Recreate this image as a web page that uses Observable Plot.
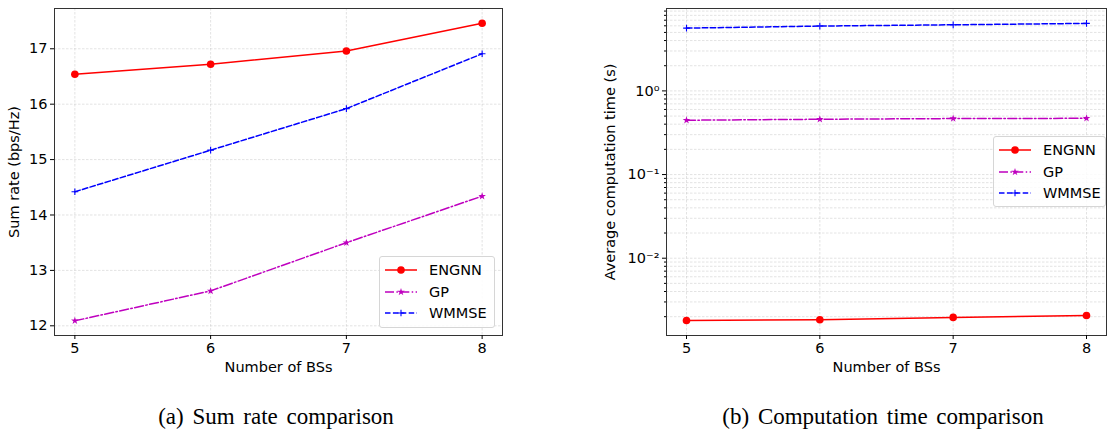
<!DOCTYPE html>
<html>
<head>
<meta charset="utf-8">
<script src="https://cdn.jsdelivr.net/npm/d3@7"></script>
<script src="https://cdn.jsdelivr.net/npm/@observablehq/plot@0.6"></script>
<style>
  html, body { margin: 0; padding: 0; background: #fff; }
  #root { position: relative; width: 1107px; height: 432px; overflow: hidden; font-family: "DejaVu Sans", sans-serif; }
  .panel { position: absolute; top: 0; }
  .caption { position: absolute; font-family: "Liberation Serif", "Times New Roman", serif; font-size: 23px; word-spacing: 3px; color: #000; white-space: nowrap; transform: translateX(-50%); }
  .legend { position: absolute; border: 1px solid #d6d6d6; border-radius: 3px; background: rgba(255,255,255,0.85); box-sizing: border-box; }
</style>
</head>
<body>
<div id="root"></div>
<script>
// ---------- data ----------
const bsCounts = [5, 6, 7, 8];
const methods = ["ENGNN", "GP", "WMMSE"];
const rateENGNN = [16.54, 16.72, 16.96, 17.46];
const rateGP = [12.09, 12.63, 13.50, 14.34];
const rateWMMSE = [14.42, 15.17, 15.92, 16.91];
const timeENGNN = [0.00180, 0.00184, 0.00196, 0.00207];
const timeGP = [0.446, 0.458, 0.467, 0.470];
const timeWMMSE = [5.63, 5.96, 6.17, 6.41];
const rateTicks = [12, 13, 14, 15, 16, 17];
const timeTicks = [0.01, 0.1, 1];
const timeTickLabels = ["10\u207B\u00B2", "10\u207B\u00B9", "10\u2070"];
const captions = ["(a) Sum rate comparison", "(b) Computation time comparison"];

// ---------- styles ----------
const style = {
  ENGNN: {color: "#ff0000", dash: null, symbol: "circle", r: 3.8},
  GP: {color: "#bf00bf", dash: "9,2.4,1.5,2.4", symbol: "star", r: 2.4},
  WMMSE: {color: "#0000ff", dash: "5.5,2.4", symbol: "plus", r: 2.3}
};
const FS = 14.5;

function rows(seriesMap) {
  const out = [];
  for (const m of methods) seriesMap[m].forEach((v, i) => out.push({n: bsCounts[i], v, method: m}));
  return out;
}
const rateRows = rows({ENGNN: rateENGNN, GP: rateGP, WMMSE: rateWMMSE});
const timeRows = rows({ENGNN: timeENGNN, GP: timeGP, WMMSE: timeWMMSE});

function seriesMarks(data) {
  const marks = [];
  for (const m of methods) {
    const d = data.filter(r => r.method === m);
    const s = style[m];
    marks.push(Plot.line(d, {x: "n", y: "v", stroke: s.color, strokeWidth: 1.5, strokeDasharray: s.dash ?? undefined}));
    if (s.symbol === "circle") marks.push(Plot.dot(d, {x: "n", y: "v", r: s.r, fill: s.color, stroke: "none"}));
    else if (s.symbol === "star") marks.push(Plot.dot(d, {x: "n", y: "v", r: s.r, symbol: "star", fill: s.color, stroke: "none"}));
    else marks.push(Plot.dot(d, {x: "n", y: "v", r: s.r, symbol: "plus", stroke: s.color, strokeWidth: 1.1}));
  }
  return marks;
}

const gridStyle = {stroke: "#c4c4c4", strokeOpacity: 0.6, strokeDasharray: "2.5,1.5", strokeWidth: 0.8};
const baseStyle = {fontFamily: "DejaVu Sans, sans-serif", fontSize: FS + "px", color: "#000", background: "transparent", overflow: "visible"};

const root = document.getElementById("root");

// ---------- left panel ----------
const left = Plot.plot({
  width: 510, height: 380,
  marginLeft: 54, marginRight: 8, marginTop: 8, marginBottom: 45,
  style: baseStyle,
  x: {domain: [4.85, 8.15]},
  y: {domain: [11.825, 17.727]},
  marks: [
    Plot.gridX(bsCounts, gridStyle),
    Plot.gridY(rateTicks, gridStyle),
    ...seriesMarks(rateRows),
    Plot.frame({stroke: "#333", strokeWidth: 1}),
    Plot.axisX(bsCounts, {tickFormat: d => String(d), fontSize: FS, label: "Number of BSs", labelAnchor: "center", labelArrow: "none", labelOffset: 36, tickSize: 4, tickPadding: 3}),
    Plot.axisY(rateTicks, {tickFormat: d => String(d), fontSize: FS, label: "Sum rate (bps/Hz)", labelAnchor: "center", labelArrow: "none", labelOffset: 46, tickSize: 4, tickPadding: 3})
  ]
});
left.classList.add("panel");
left.style.left = "0px";
root.appendChild(left);

// ---------- right panel ----------
const minorTicks = [];
for (let k = -3; k <= 0; k++) for (let j = 2; j <= 9; j++) {
  const v = j * Math.pow(10, k);
  if (v > 0.00119 && v < 9.66) minorTicks.push(v);
}
const right = Plot.plot({
  width: 517, height: 380,
  marginLeft: 76, marginRight: 1, marginTop: 8, marginBottom: 45,
  style: baseStyle,
  x: {domain: [4.85, 8.15]},
  y: {type: "log", domain: [Math.pow(10, -2.924), Math.pow(10, 0.985)]},
  marks: [
    Plot.gridX(bsCounts, gridStyle),
    Plot.gridY(minorTicks, gridStyle),
    Plot.gridY(timeTicks, gridStyle),
    ...seriesMarks(timeRows),
    Plot.frame({stroke: "#333", strokeWidth: 1}),
    Plot.axisX(bsCounts, {tickFormat: d => String(d), fontSize: FS, label: "Number of BSs", labelAnchor: "center", labelArrow: "none", labelOffset: 36, tickSize: 4, tickPadding: 3}),
    Plot.axisY(minorTicks, {tickFormat: () => "", label: null, tickSize: 2}),
    Plot.axisY(timeTicks, {tickFormat: d => timeTickLabels[timeTicks.indexOf(d)], fontSize: FS, label: "Average computation time (s)", labelAnchor: "center", labelArrow: "none", labelOffset: 62, tickSize: 4, tickPadding: 3})
  ]
});
right.classList.add("panel");
right.style.left = "590px";
root.appendChild(right);

// ---------- legends ----------
function addLegend(x, y, w, h) {
  const div = document.createElement("div");
  div.className = "legend";
  Object.assign(div.style, {left: x + "px", top: y + "px", width: w + "px", height: h + "px"});
  const svg = d3.create("svg").attr("width", w - 2).attr("height", h - 2)
    .style("position", "absolute").style("left", "0").style("top", "0");
  const rowY = [13, 35, 56];
  methods.forEach((m, i) => {
    const s = style[m];
    const g = svg.append("g").attr("transform", `translate(0,${rowY[i]})`);
    g.append("line").attr("x1", 5).attr("x2", 37).attr("y1", 0).attr("y2", 0)
      .attr("stroke", s.color).attr("stroke-width", 1.5)
      .attr("stroke-dasharray", s.dash ?? null);
    const sym = s.symbol === "circle" ? d3.symbolCircle : s.symbol === "star" ? d3.symbolStar : d3.symbolPlus;
    const p = g.append("path").attr("transform", "translate(21,0)")
      .attr("d", d3.symbol(sym, Math.PI * s.r * s.r)());
    if (s.symbol === "plus") p.attr("fill", "none").attr("stroke", s.color).attr("stroke-width", 1.1);
    else p.attr("fill", s.color);
    g.append("text").attr("x", 49).attr("y", 0).attr("dy", "0.36em")
      .attr("font-family", "DejaVu Sans, sans-serif").attr("font-size", FS + "px").attr("fill", "#000")
      .text(m);
  });
  div.appendChild(svg.node());
  root.appendChild(div);
}
addLegend(379, 256, 116, 72);
addLegend(993, 136, 113, 71);

// ---------- captions ----------
[[276, captions[0]], [883, captions[1]]].forEach(([cx, t]) => {
  const c = document.createElement("div");
  c.className = "caption";
  c.style.left = cx + "px";
  c.style.top = "404px";
  c.textContent = t;
  root.appendChild(c);
});
</script>
</body>
</html>
